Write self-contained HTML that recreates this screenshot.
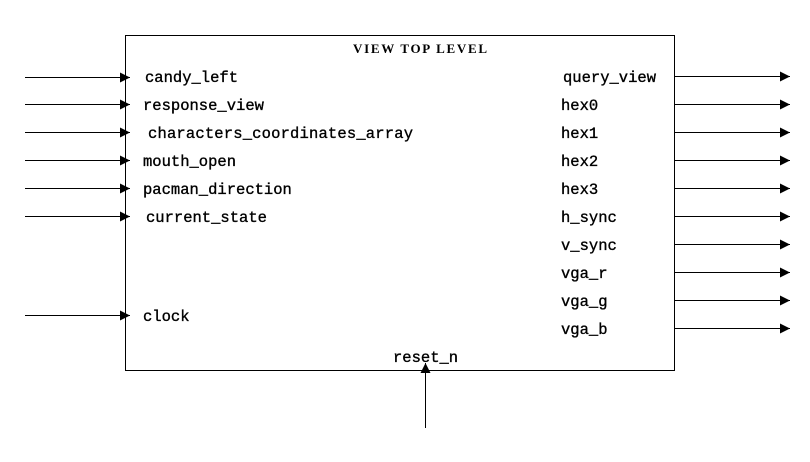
<!DOCTYPE html>
<html><head><style>body{margin:0;background:#fff}svg{display:block}text{font-family:"Liberation Mono",monospace;font-size:15.5px;fill:#000;stroke:#000;stroke-width:0.35}</style></head>
<body>
<svg width="810" height="462" xmlns="http://www.w3.org/2000/svg">
<defs><marker id="a" markerWidth="10" markerHeight="10" refX="10" refY="5" orient="auto" markerUnits="userSpaceOnUse"><path d="M0,0L10,5L0,10z" fill="#000"/></marker></defs>
<rect x="125.5" y="35.5" width="549" height="335" fill="none" stroke="#000" stroke-width="1"/>
<text x="353" y="53" textLength="134" style="font-family:'Liberation Serif',serif;font-size:13px;font-weight:bold;stroke-width:0">VIEW TOP LEVEL</text>
<g stroke="#000" stroke-width="1" marker-end="url(#a)">
<line x1="25" y1="77.5" x2="130" y2="77.5"/>
<line x1="25" y1="104.5" x2="130" y2="104.5"/>
<line x1="25" y1="132.5" x2="130" y2="132.5"/>
<line x1="25" y1="160.5" x2="130" y2="160.5"/>
<line x1="25" y1="188.5" x2="130" y2="188.5"/>
<line x1="25" y1="216.5" x2="130" y2="216.5"/>
<line x1="25" y1="315.5" x2="130" y2="315.5"/>
<line x1="675" y1="76.5" x2="790" y2="76.5"/>
<line x1="675" y1="104.5" x2="790" y2="104.5"/>
<line x1="675" y1="132.5" x2="790" y2="132.5"/>
<line x1="675" y1="160.5" x2="790" y2="160.5"/>
<line x1="675" y1="188.5" x2="790" y2="188.5"/>
<line x1="675" y1="216.5" x2="790" y2="216.5"/>
<line x1="675" y1="244.5" x2="790" y2="244.5"/>
<line x1="675" y1="272.5" x2="790" y2="272.5"/>
<line x1="675" y1="300.5" x2="790" y2="300.5"/>
<line x1="675" y1="328.5" x2="790" y2="328.5"/>
<line x1="425.5" y1="428" x2="425.5" y2="363"/>
</g>
<text x="145" y="82">candy_left</text>
<text x="143" y="110">response_view</text>
<text x="148" y="138" textLength="265">characters_coordinates_array</text>
<text x="143" y="166">mouth_open</text>
<text x="143" y="194">pacman_direction</text>
<text x="146" y="222">current_state</text>
<text x="143" y="321">clock</text>
<text x="393" y="362">reset_n</text>
<text x="563" y="82">query_view</text>
<text x="561" y="110">hex0</text>
<text x="561" y="138">hex1</text>
<text x="561" y="166">hex2</text>
<text x="561" y="194">hex3</text>
<text x="561" y="222">h_sync</text>
<text x="561" y="250">v_sync</text>
<text x="561" y="278">vga_r</text>
<text x="561" y="306">vga_g</text>
<text x="561" y="334">vga_b</text>
</svg>
</body></html>
